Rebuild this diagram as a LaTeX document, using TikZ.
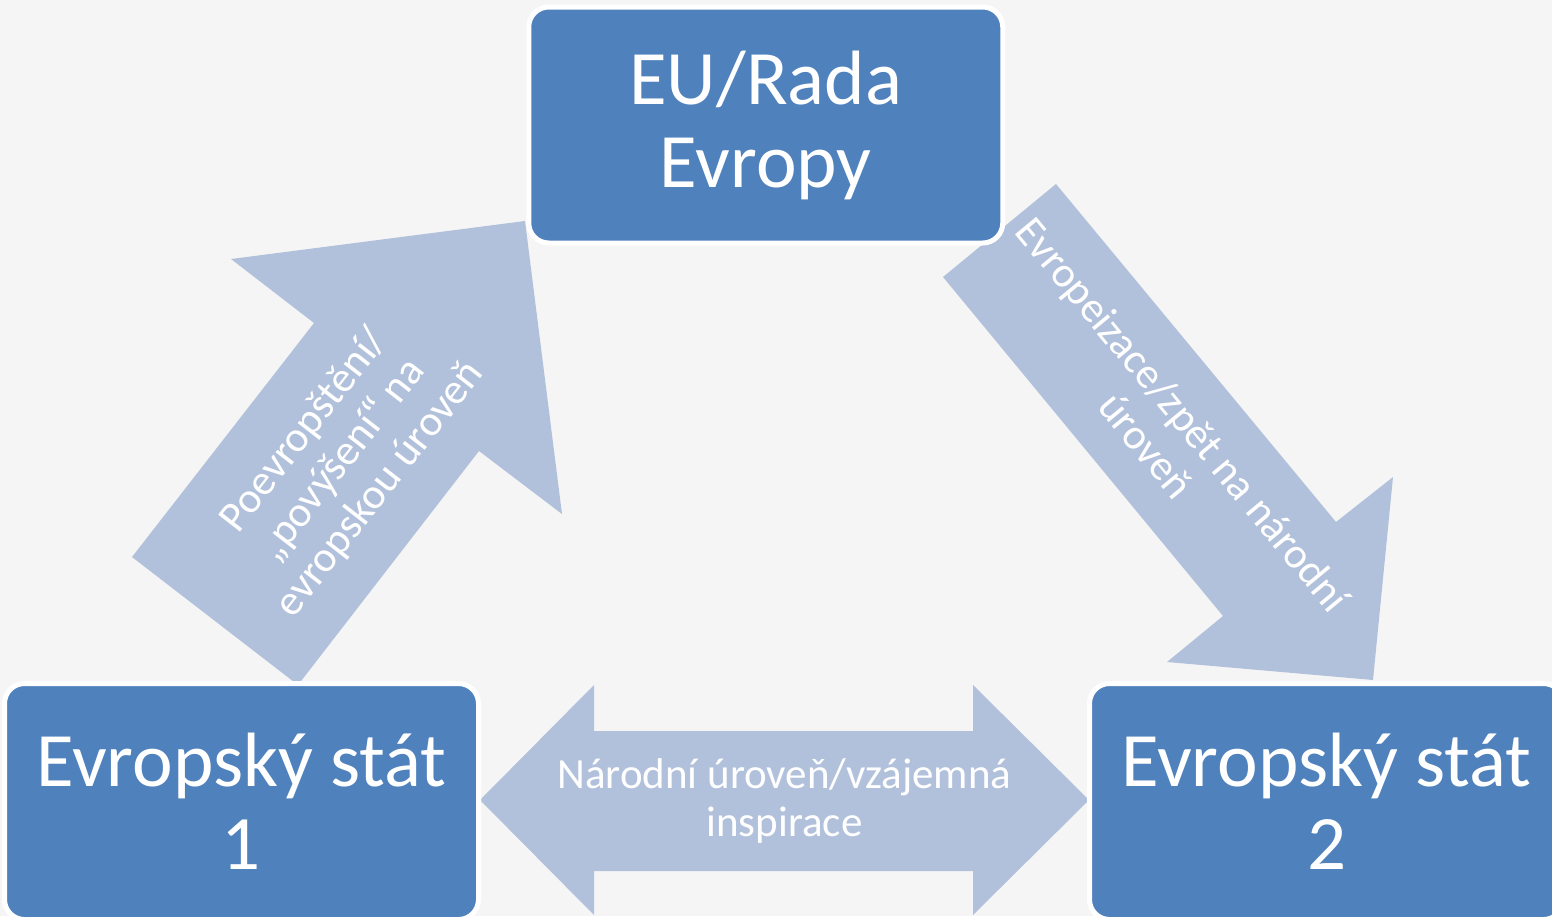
\documentclass[tikz,border=0pt]{standalone}
\usepackage{fontspec}
\setmainfont{Carlito}
\usepackage{tikz}
\definecolor{boxblue}{HTML}{4F81BD}
\definecolor{arrowblue}{HTML}{B2C1DB}
\definecolor{paper}{HTML}{F5F5F5}

\begin{document}
\begin{tikzpicture}[x=0.5pt,y=-0.5pt,
  level/.style={rectangle, rounded corners=10pt, fill=boxblue, draw=white,
    line width=2.5pt, minimum width=237pt, minimum height=118pt,
    text=white, align=center, font=\fontsize{38.5}{41.5}\selectfont},
  flow/.style={fill=arrowblue},
  flowtext/.style={text=white, align=center, font=\fontsize{21.5}{24}\selectfont}]
\clip (0,0) rectangle (1552,916);
\fill[paper] (0,0) rectangle (1552,916);
\fill[flow] (298,685) -- (132,557) -- (314,323) -- (231,259) -- (525,221)
  -- (562,514) -- (479,451) -- cycle;
\fill[flow] (943,277) -- (1056,184) -- (1336,522) -- (1393,477) -- (1373,680)
  -- (1167,662) -- (1223,616) -- cycle;
\fill[flow] (480,800) -- (594,685) -- (594,731) -- (973,731) -- (973,685)
  -- (1089,800) -- (973,915) -- (973,871) -- (594,871) -- (594,915) -- cycle;
\node[flowtext, rotate=52.1] (upward) at (342,460)
  {Poevropštění/\\„povýšení“ na\\evropskou úroveň};
\node[flowtext, rotate=-50.4] (downward) at (1165,430)
  {Evropeizace/zpět na národní\\úroveň};
\node[flowtext] (mutual) at (784.5,801) {Národní úroveň/vzájemná\\inspirace};
\node[level] (eu) at (765.75,125) {EU/Rada\\Evropy};
\node[level] (state1) at (241.5,801.5) {Evropský stát\\1};
\node[level] (state2) at (1326.5,801.5) {Evropský stát\\2};
\end{tikzpicture}
\end{document}
